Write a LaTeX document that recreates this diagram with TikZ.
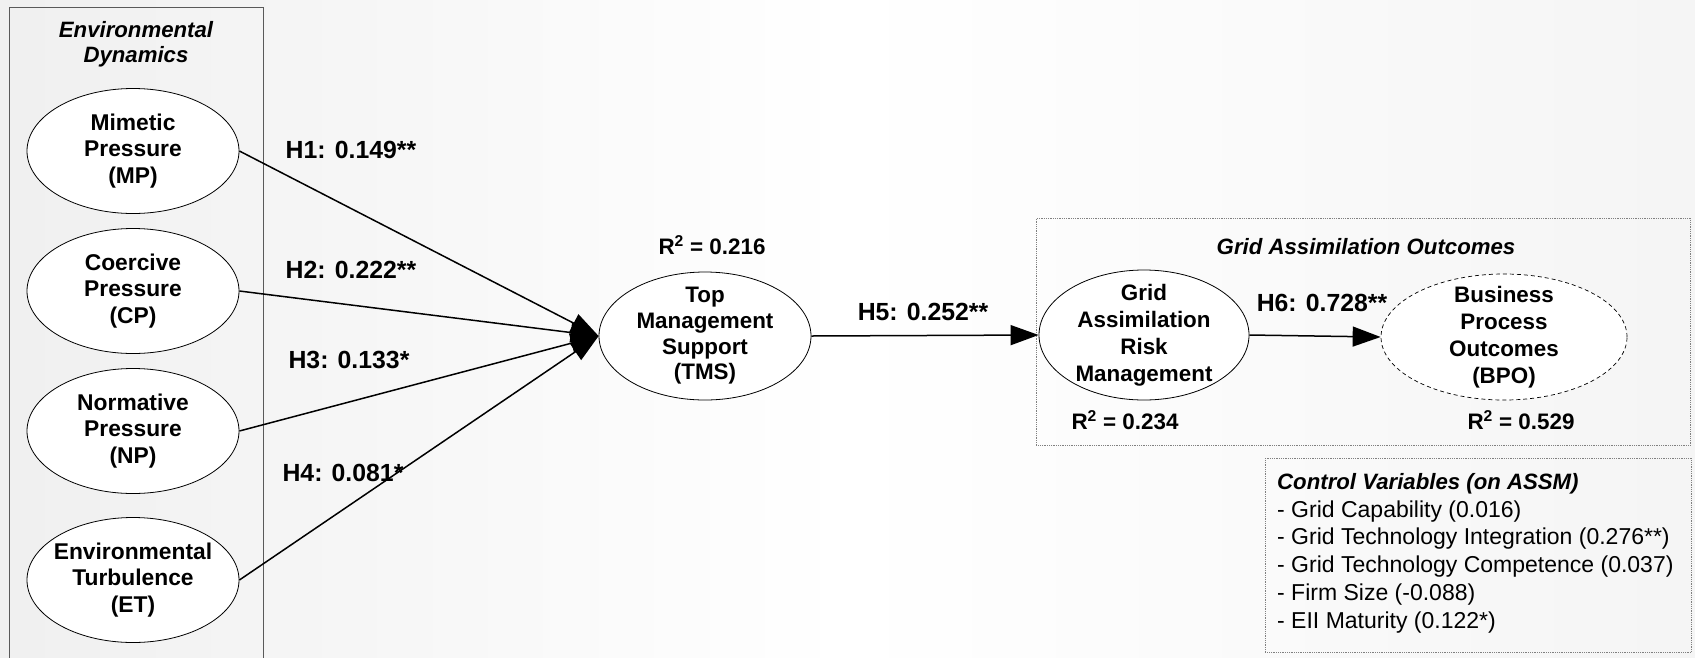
\documentclass[tikz,border=0pt]{standalone}
\usepackage{fontspec}
\setmainfont{Liberation Sans}
\usetikzlibrary{shapes.geometric,arrows.meta}
\begin{document}
\begin{tikzpicture}[x=1pt,y=-1pt,
  lv/.style={ellipse, draw, line width=0.8pt, fill=white, minimum width=212pt, minimum height=125pt, inner sep=0pt},
  lvtxt/.style={font=\fontsize{22.8}{26.5}\selectfont\bfseries, align=center},
  hlab/.style={font=\fontsize{24.8}{28}\selectfont\bfseries},
  rsq/.style={font=\fontsize{22.4}{26}\selectfont\bfseries},
  grptitle/.style={font=\fontsize{22.2}{25}\selectfont\bfseries\itshape, align=center},
  grpbox/.style={draw=gray, densely dotted, line width=0.8pt, inner sep=0pt, anchor=north west},
  conn/.style={line width=1.5pt, -{Triangle[length=28pt,width=20pt]}}
]
\useasboundingbox (0,0) rectangle (1695,657);
\shade[left color=gray!12, right color=gray!8, middle color=white] (0,0) rectangle (1695,657);

% left group
\draw[line width=0.9pt, draw=black!65] (9,670) -- (9,7) -- (263,7) -- (263,670);
\node (edtitle) [grptitle] at (136,44) {Environmental\\Dynamics};

\node (mp) [lv, label={[lvtxt]center:Mimetic\\Pressure\\(MP)}] at (133,151) {};
\node (cp) [lv, label={[lvtxt]center:Coercive\\Pressure\\(CP)}] at (133,291) {};
\node (np) [lv, label={[lvtxt]center:Normative\\Pressure\\(NP)}] at (133,431) {};
\node (et) [lv, label={[lvtxt]center:Environmental\\Turbulence\\(ET)}] at (133,580) {};

\node (tms) [lv, minimum height=128pt, label={[lvtxt, font=\fontsize{22.4}{25.7}\selectfont\bfseries]center:Top\\Management\\Support\\(TMS)}] at (705,336) {};
\node (rtms) [rsq] at (712,245) {R\textsuperscript{2} = 0.216};

% right group
\node (gaobox) [grpbox, minimum width=654pt, minimum height=227pt] at (1036,218) {};
\node (gaotitle) [grptitle] at (1366,247) {Grid Assimilation Outcomes};
\node (garm) [lv, minimum width=210pt, minimum height=130pt, label={[lvtxt, font=\fontsize{22.4}{27}\selectfont\bfseries]center:Grid\\Assimilation\\Risk\\Management}] at (1144,335) {};
\node (bpo) [lv, dash pattern=on 4pt off 3pt, line width=0.7pt, minimum width=246pt, minimum height=126pt, label={[lvtxt, font=\fontsize{22.4}{27}\selectfont\bfseries]center:Business\\Process\\Outcomes\\(BPO)}] at (1504,337) {};
\node (rgarm) [rsq] at (1125,420) {R\textsuperscript{2} = 0.234};
\node (rbpo) [rsq] at (1521,420) {R\textsuperscript{2} = 0.529};

% control variables
\node (cvbox) [grpbox, minimum width=426pt, minimum height=194pt] at (1265,458) {};
\node (cvtxt) [anchor=north west, align=left, inner sep=0pt, font=\fontsize{23}{27.8}\selectfont] at (1277,473)
  {{\fontsize{22.2}{27.8}\selectfont\bfseries\itshape Control Variables (on ASSM)}\\
   - Grid Capability (0.016)\\
   - Grid Technology Integration (0.276**)\\
   - Grid Technology Competence (0.037)\\
   - Firm Size (-0.088)\\
   - EII Maturity (0.122*)};

% connectors
\draw[conn] (mp.east) -- (tms.west);
\draw[conn] (cp.east) -- (tms.west);
\draw[conn] (np.east) -- (tms.west);
\draw[conn] (et.east) -- (tms.west);
\draw[conn] (tms.east) -- (garm.west);
\draw[conn] (garm.east) -- (bpo.west);

% labels
\node (h1) [hlab] at (351,150) {H1: 0.149**};
\node (h2) [hlab] at (351,270) {H2: 0.222**};
\node (h3) [hlab] at (349,360) {H3: 0.133*};
\node (h4) [hlab] at (343,473) {H4: 0.081*};
\node (h5) [hlab] at (923,312) {H5: 0.252**};
\node (h6) [hlab] at (1322,303) {H6: 0.728**};
\end{tikzpicture}
\end{document}
